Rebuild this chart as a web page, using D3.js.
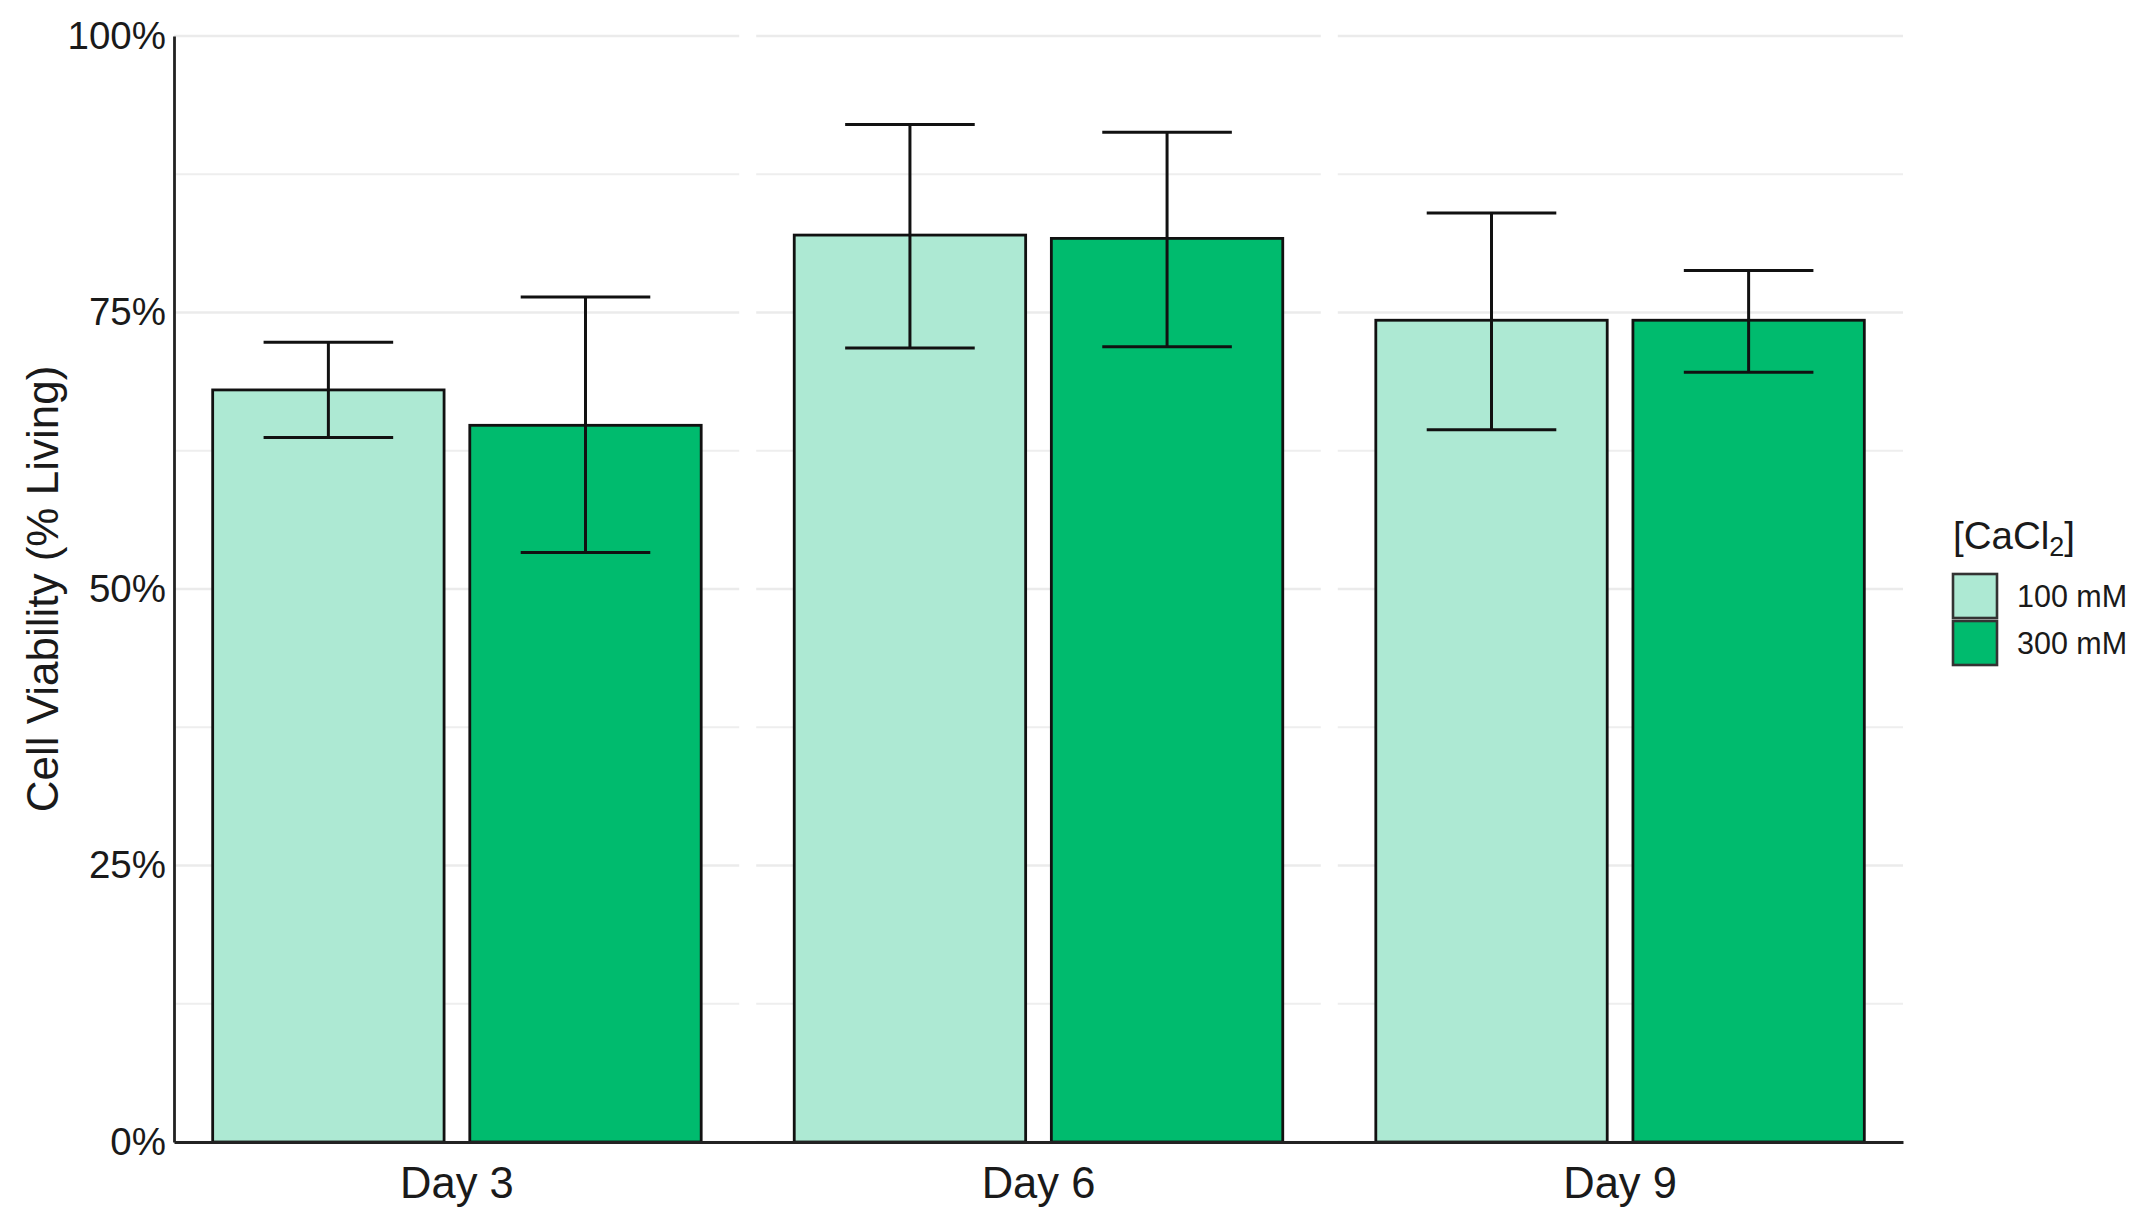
<!DOCTYPE html>
<html>
<head>
<meta charset="utf-8">
<script src="https://cdn.jsdelivr.net/npm/d3@7/dist/d3.min.js"></script>
<style>
  html, body { margin: 0; padding: 0; background: #ffffff; }
  svg { display: block; }
  text { font-family: "Liberation Sans", Arial, Helvetica, sans-serif; }
</style>
</head>
<body>
<svg id="chart" width="2139" height="1221"></svg>
<script>
// ---- data ----
const days = ["Day 3", "Day 6", "Day 9"];
const concentrations = ["100 mM", "300 mM"];
const mean100 = [68.0, 82.0, 74.3];
const mean300 = [64.8, 81.7, 74.3];
const low100 = [63.7, 71.8, 64.4];
const high100 = [72.3, 92.0, 84.0];
const low300 = [53.3, 71.9, 69.6];
const high300 = [76.4, 91.3, 78.8];
const majorTicks = [0, 25, 50, 75, 100];
const minorTicks = [12.5, 37.5, 62.5, 87.5];
const tickLabels = ["0%", "25%", "50%", "75%", "100%"];
const fillColors = ["#ade9d3", "#00bb6e"];

// ---- layout ----
const W = 2139, H = 1221;
const margin = { left: 174, right: 236, top: 36, bottom: 79 };
const plotW = W - margin.left - margin.right;
const plotH = H - margin.top - margin.bottom;

const svg = d3.select("#chart");
const g = svg.append("g").attr("transform", `translate(${margin.left},${margin.top})`);

const x = d3.scaleBand().domain(days).range([0, plotW]).paddingInner(0).paddingOuter(-0.0135);
const sub = d3.scaleBand().domain(concentrations)
  .range([-0.42 * x.bandwidth(), 0.42 * x.bandwidth()])
  .paddingInner(0.1);
const y = d3.scaleLinear().domain([0, 100]).range([plotH, 0]);
const color = d3.scaleOrdinal().domain(concentrations).range(fillColors);

const rows = [];
days.forEach((d, i) => {
  rows.push({ day: d, conc: concentrations[0], mean: mean100[i], lo: low100[i], hi: high100[i] });
  rows.push({ day: d, conc: concentrations[1], mean: mean300[i], lo: low300[i], hi: high300[i] });
});

// ---- gridlines ----
g.append("g").selectAll("line.minor").data(minorTicks).join("line")
  .attr("x1", 0).attr("x2", plotW)
  .attr("y1", d => y(d)).attr("y2", d => y(d))
  .attr("stroke", "#eeeeee").attr("stroke-width", 2.2);
g.append("g").selectAll("line.major").data(majorTicks).join("line")
  .attr("x1", 0).attr("x2", plotW)
  .attr("y1", d => y(d)).attr("y2", d => y(d))
  .attr("stroke", "#ebebeb").attr("stroke-width", 2.6);
// white separators between day groups
g.append("g").selectAll("line.sep").data(days.slice(1)).join("line")
  .attr("x1", d => x(d)).attr("x2", d => x(d))
  .attr("y1", -5).attr("y2", plotH)
  .attr("stroke", "#ffffff").attr("stroke-width", 17);

// ---- bars ----
const groups = g.append("g").selectAll("g.day").data(rows).join("g")
  .attr("transform", d => `translate(${x(d.day) + x.bandwidth() / 2},0)`);

groups.append("rect")
  .attr("x", d => sub(d.conc))
  .attr("width", sub.bandwidth())
  .attr("y", d => y(d.mean))
  .attr("height", d => y(0) - y(d.mean))
  .attr("fill", d => color(d.conc))
  .attr("stroke", "#111111").attr("stroke-width", 2.8);

// ---- error bars ----
const capHalf = 0.28 * sub.bandwidth();
const eb = groups.append("g").attr("stroke", "#111111").attr("stroke-width", 3).attr("fill", "none");
eb.append("line")
  .attr("x1", d => sub(d.conc) + sub.bandwidth() / 2).attr("x2", d => sub(d.conc) + sub.bandwidth() / 2)
  .attr("y1", d => y(d.lo)).attr("y2", d => y(d.hi));
eb.append("line")
  .attr("x1", d => sub(d.conc) + sub.bandwidth() / 2 - capHalf).attr("x2", d => sub(d.conc) + sub.bandwidth() / 2 + capHalf)
  .attr("y1", d => y(d.hi)).attr("y2", d => y(d.hi));
eb.append("line")
  .attr("x1", d => sub(d.conc) + sub.bandwidth() / 2 - capHalf).attr("x2", d => sub(d.conc) + sub.bandwidth() / 2 + capHalf)
  .attr("y1", d => y(d.lo)).attr("y2", d => y(d.lo));

// ---- axes ----
const yAxis = d3.axisLeft(y).tickValues(majorTicks)
  .tickFormat((d, i) => tickLabels[i]).tickSize(0).tickPadding(8);
const ya = g.append("g").call(yAxis);
ya.select(".domain").attr("stroke", "#222222").attr("stroke-width", 2.8);
ya.selectAll("text").attr("font-size", 38.5).attr("fill", "#1a1a1a")
  .attr("font-family", "'Liberation Sans', Arial, sans-serif");

const xAxis = d3.axisBottom(x).tickSize(0).tickPadding(25);
const xa = g.append("g").attr("transform", `translate(0,${plotH})`).call(xAxis);
xa.select(".domain").attr("stroke", "#222222").attr("stroke-width", 2.8);
xa.selectAll("text").attr("font-size", 43.5).attr("fill", "#1a1a1a")
  .attr("font-family", "'Liberation Sans', Arial, sans-serif");

// y-axis title
svg.append("text")
  .attr("transform", `translate(58,${margin.top + plotH / 2}) rotate(-90)`)
  .attr("text-anchor", "middle")
  .attr("font-size", 44).attr("fill", "#1a1a1a")
  .text("Cell Viability (% Living)");

// ---- legend ----
const lg = svg.append("g").attr("transform", `translate(${margin.left + plotW + 50},0)`);
const lt = lg.append("text").attr("x", 0).attr("y", 549).attr("font-size", 38.5).attr("fill", "#1a1a1a");
lt.append("tspan").text("[CaCl");
lt.append("tspan").attr("font-size", 27).attr("dy", 7).text("2");
lt.append("tspan").attr("dy", -7).text("]");

const keySize = 44;
const items = lg.selectAll("g.item").data(concentrations).join("g")
  .attr("transform", (d, i) => `translate(0,${574 + i * (keySize + 3)})`);
items.append("rect")
  .attr("width", keySize).attr("height", keySize)
  .attr("fill", d => color(d)).attr("stroke", "#333333").attr("stroke-width", 2.6);
items.append("text")
  .attr("x", keySize + 20).attr("y", keySize / 2 + 11)
  .attr("font-size", 30.5).attr("fill", "#1a1a1a")
  .text(d => d);
</script>
</body>
</html>
